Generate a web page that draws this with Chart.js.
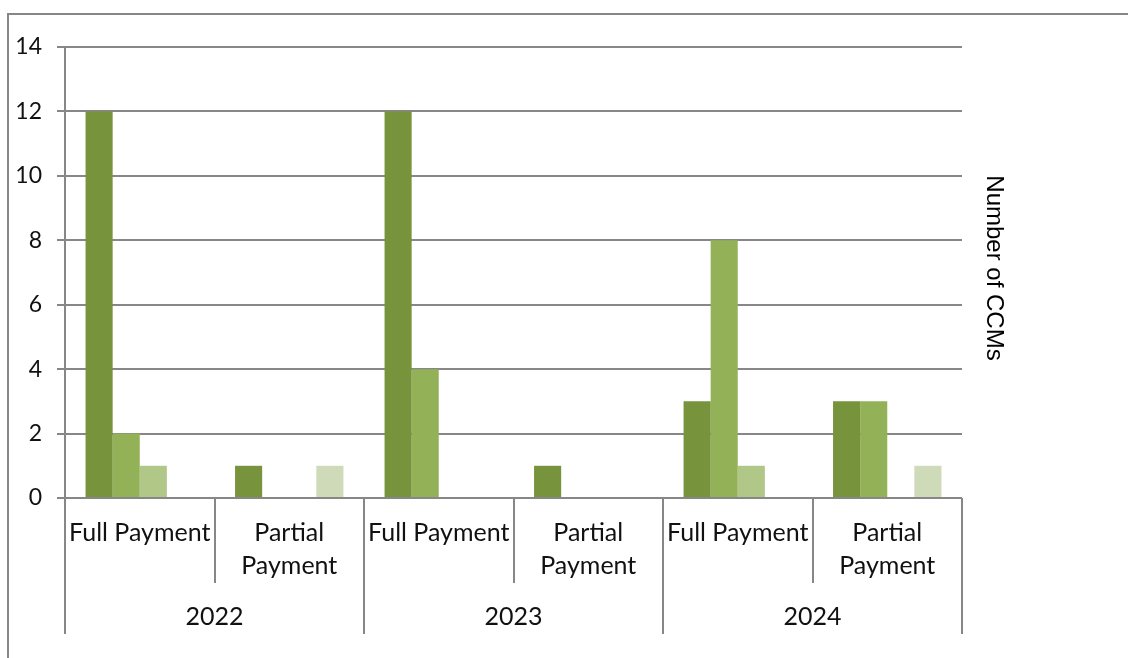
<!DOCTYPE html>
<html>
<head>
<meta charset="utf-8">
<script src="https://cdn.jsdelivr.net/npm/chart.js@4"></script>
<style>
  body { margin: 0; background: #fff; }
  #wrap { width: 1128px; height: 658px; position: relative; }
</style>
</head>
<body>
<div id="wrap"><canvas id="myChart"></canvas></div>
<script>
// data
const years = ['2022', '2023', '2024'];
const paymentTypes = ['Full Payment', 'Partial Payment'];
const series1 = [12, 1, 12, 1, 3, 3];
const series2 = [2, null, 4, null, 8, 3];
const series3 = [1, null, null, null, 1, null];
const series4 = [null, 1, null, null, null, 1];
const yTicks = [0, 2, 4, 6, 8, 10, 12, 14];

const colors = ['#77933c', '#93b156', '#b0c788', '#cfdbb8'];
const gridColor = '#878787';
const labelFont = '25px Lato';

// one label per (year, payment type)
const labels = [];
years.forEach((y) => {
  paymentTypes.forEach((p) => labels.push(y + ' ' + p));
});

// frame round the chart + category axis drawn by hand
const framePlugin = {
  id: 'frame',
  beforeDraw: (chart) => {
    const ctx = chart.ctx;
    ctx.save();
    ctx.strokeStyle = gridColor;
    ctx.lineWidth = 2;
    ctx.strokeRect(8, 14, 1200, 700);
    ctx.restore();
  },
  afterDraw: (chart) => {
    const ctx = chart.ctx;
    const x = chart.scales.x;
    const area = chart.chartArea;
    const base = area.bottom;
    const n = labels.length;
    const edge = (i) => {
      if (i === 0) return area.left;
      if (i === n) return area.right;
      return (x.getPixelForValue(i - 1) + x.getPixelForValue(i)) / 2;
    };

    ctx.save();
    ctx.strokeStyle = gridColor;
    ctx.lineWidth = 2;
    for (let i = 0; i <= n; i++) {
      const long = i % paymentTypes.length === 0;
      const px = Math.round(edge(i));
      ctx.beginPath();
      ctx.moveTo(px, base);
      ctx.lineTo(px, long ? base + 136 : base + 85);
      ctx.stroke();
    }

    ctx.fillStyle = '#111';
    ctx.font = labelFont;
    ctx.textAlign = 'center';
    ctx.textBaseline = 'middle';
    labels.forEach((lab, i) => {
      const cx = x.getPixelForValue(i);
      const p = paymentTypes[i % paymentTypes.length];
      if (p === 'Full Payment') {
        ctx.fillText(p, cx, base + 35);
      } else {
        const words = p.split(' ');
        ctx.fillText(words[0], cx, base + 35);
        ctx.fillText(words[1], cx, base + 68);
      }
    });
    years.forEach((y, j) => {
      const l = edge(j * paymentTypes.length);
      const r = edge((j + 1) * paymentTypes.length);
      ctx.fillText(y, (l + r) / 2, base + 119);
    });

    // axis title on the right, rotated
    ctx.translate(994, 268);
    ctx.rotate(Math.PI / 2);
    ctx.font = '24px "Liberation Sans"';
    ctx.fillStyle = '#000';
    ctx.fillText('Number of CCMs', 0, 0);
    ctx.restore();
  }
};

const myChart = new Chart(document.getElementById('myChart'), {
  type: 'bar',
  data: {
    labels: labels,
    datasets: [series1, series2, series3, series4].map((d, i) => ({
      label: 'Series ' + (i + 1),
      data: d,
      backgroundColor: colors[i],
      borderWidth: 0,
      categoryPercentage: 0.725,
      barPercentage: 1
    }))
  },
  options: {
    responsive: true,
    maintainAspectRatio: false,
    animation: false,
    layout: { padding: { left: 0, right: 166, top: 47, bottom: 160 } },
    plugins: {
      legend: { display: false },
      tooltip: { enabled: false }
    },
    scales: {
      x: {
        display: false
      },
      y: {
        min: 0,
        max: 14,
        afterFit: (scale) => { scale.width = 65; },
        afterBuildTicks: (scale) => {
          scale.ticks = yTicks.map((v) => ({ value: v }));
        },
        border: { color: gridColor, width: 2 },
        grid: { color: gridColor, lineWidth: 2, tickLength: 8 },
        ticks: {
          color: '#111',
          font: { family: 'Lato', size: 23 },
          padding: 15
        }
      }
    }
  },
  plugins: [framePlugin]
});
</script>
</body>
</html>
